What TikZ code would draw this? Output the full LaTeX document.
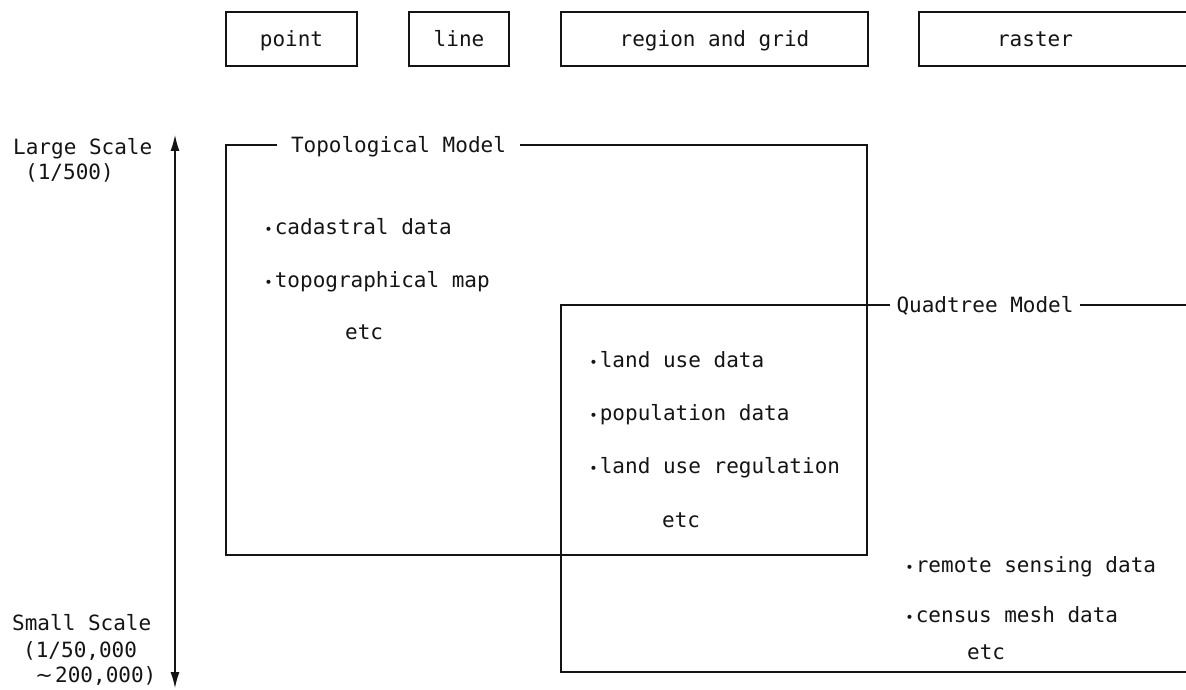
\documentclass[tikz,border=0pt]{standalone}
\usepackage{fontspec}
\usepackage{tikz}
\usetikzlibrary{calc}
\usetikzlibrary{arrows.meta}
\usetikzlibrary{positioning}
\setmonofont{DejaVu Sans Mono}
\newfontfamily\wavefont{DejaVu Sans}
\definecolor{ink}{RGB}{20, 20, 20}
\newcommand{\itemdot}{\makebox[12.64pt]{\fontsize{14}{14}\selectfont •}}
\newcommand{\wavedash}{\makebox[22pt]{\wavefont ∼}}

\tikzset{
    typed/.style={font=\ttfamily\fontsize{21}{24}\selectfont, text=ink, inner sep=0pt,
                  text height=15pt, text depth=0pt},
    row/.style={typed, anchor=west},
    frame/.style={draw=ink, line width=1.2pt},
    headbox/.style={typed, frame, minimum height=54pt},
    modeltitle/.style={typed, inner xsep=14pt},
    scalearrow/.style={draw=ink, line width=1.2pt,
                       {Latex[length=16pt, width=9pt]}-{Latex[length=16pt, width=9pt]}}
}

\begin{document}
\begin{tikzpicture}[x=1pt, y=-1pt]
            \useasboundingbox (0,0) rectangle (1186,690);

            \node[headbox, minimum width=131pt] (point)  at ( 291.5, 39) {point};
            \node[headbox, minimum width=100pt] (line)   at ( 459.0, 39) {line};
            \node[headbox, minimum width=307pt] (region) at ( 714.5, 39) {region and grid};
            \node[typed]                        (raster) at (1035.0, 39) {raster};
            \draw[frame] (1186,12) -- (919,12) -- (919,66) -- (1186,66);

            \coordinate (large) at (175,135);
            \coordinate (small) at (175,688);
            \draw[scalearrow] (small) -- (large);
            \node[row] (largescale) at (13,147) {Large Scale};
            \node[row] (largeratio) at (25,172) {(1/500)};
            \node[row] (smallscale) at (12,623) {Small Scale};
            \node[row] (smallratio) at (23,650) {(1/50,000};
            \node[row] (smallrange) at (33,675) {\wavedash200,000)};

            \node[modeltitle] (topo) at (398.5,145) {Topological Model};
            \draw[frame] (topo.west) -- (226,145) -- (226,555) -- (867,555) -- (867,145) -- (topo.east);
            \node[row] (cadastral)  at (262,227) {\itemdot cadastral data};
            \node[row] (topomap)    at (262,280) {\itemdot topographical map};
            \node[row] (topoetc)    at (345,332) {etc};

            \node[modeltitle, inner xsep=6pt] (quad) at (985,305) {Quadtree Model};
            \draw[frame] (quad.west) -- (561,305) -- (561,672) -- (1186,672);
            \draw[frame] (quad.east) -- (1186,305);
            \node[row] (landuse)    at (587,360) {\itemdot land use data};
            \node[row] (population) at (587,413) {\itemdot population data};
            \node[row] (regulation) at (587,466) {\itemdot land use regulation};
            \node[row] (quadetc)    at (662,520) {etc};

            \node[row] (remote)     at (903,565) {\itemdot remote sensing data};
            \node[row] (census)     at (903,615) {\itemdot census mesh data};
            \node[row] (rasteretc)  at (967,652) {etc};
\end{tikzpicture}
\end{document}
